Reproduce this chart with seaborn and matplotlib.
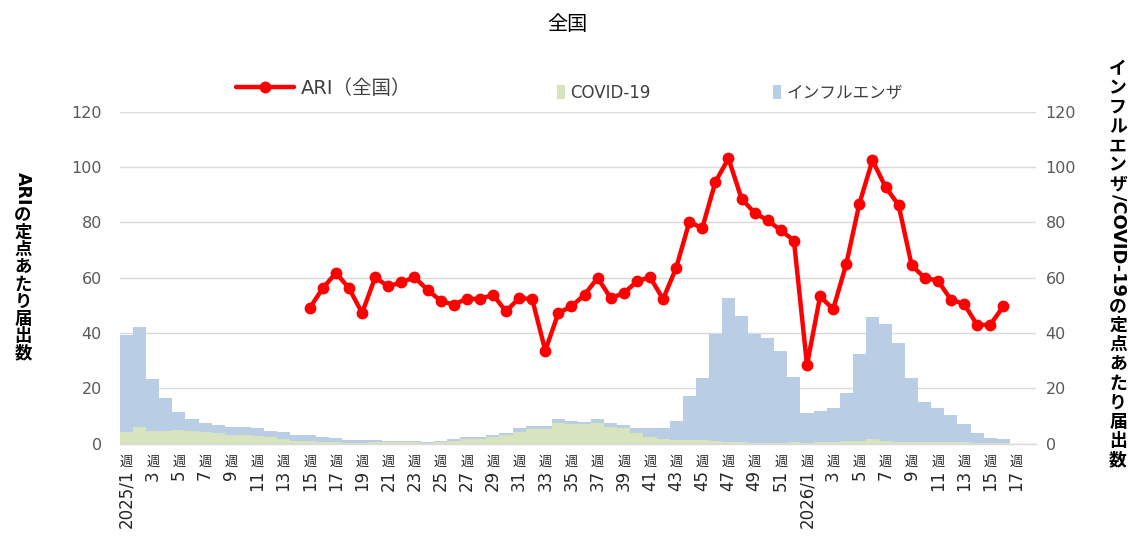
import numpy as np
import pandas as pd
import matplotlib
matplotlib.use("Agg")
import matplotlib.pyplot as plt
import seaborn as sns
from matplotlib.lines import Line2D
from matplotlib.patches import Patch
from matplotlib.font_manager import FontProperties
from matplotlib.textpath import TextToPath

sns.set_style("white")
plt.rcParams["font.family"] = ["DejaVu Sans", "Noto Sans CJK JP"]

# ---------------- data ----------------
covid_2025 = [4.1, 6.1, 4.4, 4.7, 4.8, 4.7, 4.1, 3.8, 3.2, 3.1,
              2.8, 2.2, 1.6, 1.0, 0.8, 0.7, 0.4, 0.2, 0.2, 0.4,
              0.4, 0.4, 0.5, 0.3, 0.5, 1.0, 1.5, 1.6, 2.2, 3.1,
              4.3, 5.3, 5.1, 7.5, 7.2, 7.1, 7.5, 6.1, 5.5, 3.9,
              2.5, 1.6, 1.4, 1.2, 1.1, 0.8, 0.7, 0.5, 0.3, 0.3,
              0.3, 0.6]
flu_2025 = [35.2, 35.9, 18.9, 11.9, 6.7, 4.3, 3.2, 2.9, 2.7, 2.9,
            2.7, 2.4, 2.4, 2.1, 2.2, 1.8, 1.5, 1.1, 1.1, 0.8,
            0.6, 0.6, 0.5, 0.4, 0.5, 0.6, 0.7, 0.9, 1.0, 0.8,
            1.2, 1.0, 1.3, 1.3, 1.1, 0.8, 1.3, 1.4, 1.2, 1.8,
            3.1, 4.0, 6.8, 15.8, 22.5, 38.9, 51.9, 45.7, 39.4, 37.8,
            33.3, 23.4]
covid_2026 = [0.3, 0.5, 0.5, 1.0, 1.0, 1.5, 1.0, 0.7, 0.7, 0.5,
              0.5, 0.5, 0.5, 0.2, 0.2, 0.2]
flu_2026 = [10.9, 11.3, 12.3, 17.4, 31.4, 44.2, 42.3, 35.6, 22.9, 14.6,
            12.3, 9.8, 6.6, 3.5, 1.7, 1.3]
# ARI: 2025 week 15-52, 2026 week 1-16
ari_2025 = [49.0, 56.2, 61.7, 56.2, 47.2, 60.1, 56.8, 58.3, 60.1, 55.6,
            51.6, 50.2, 52.4, 52.2, 53.8, 47.8, 52.6, 52.2, 33.6, 47.2,
            49.6, 53.8, 59.9, 52.6, 54.4, 58.6, 60.2, 52.2, 63.5, 80.0,
            78.0, 94.6, 103.1, 88.5, 83.4, 80.7, 77.1, 73.4]
ari_2026 = [28.4, 53.2, 48.6, 64.9, 86.7, 102.4, 92.8, 86.2, 64.4, 59.9,
            58.9, 52.0, 50.5, 42.9, 42.9, 49.6]

weeks_2025 = list(range(1, 53))
weeks_2026 = list(range(1, 19))
categories = [f"2025/{w}週" for w in weeks_2025] + [f"2026/{w}週" for w in weeks_2026]

xtick_labels = ["2025/1", "3", "5", "7", "9", "11", "13", "15", "17", "19",
                "21", "23", "25", "27", "29", "31", "33", "35", "37", "39",
                "41", "43", "45", "47", "49", "51",
                "2026/1", "3", "5", "7", "9", "11", "13", "15", "17"]
yticks = [0, 20, 40, 60, 80, 100, 120]

title = "全国"
left_label = "ARIの定点あたり届出数"
right_label = "インフルエンザ/COVID-19の定点あたり届出数"
legend_ari = "ARI（全国）"
legend_covid = "COVID-19"
legend_flu = "インフルエンザ"

BLUE = "#B9CDE5"
GREEN = "#D7E4BD"
RED = "#FF0000"

n_data = len(covid_2025) + len(covid_2026)
df = pd.DataFrame({
    "week": categories[:n_data],
    "covid": covid_2025 + covid_2026,
    "flu": flu_2025 + flu_2026,
})
df["total"] = df["covid"] + df["flu"]

ari_weeks = [f"2025/{w}週" for w in range(15, 53)] + [f"2026/{w}週" for w in range(1, 17)]
ari_df = pd.DataFrame({"week": ari_weeks, "ari": ari_2025 + ari_2026})
ari_df["pos"] = [categories.index(w) for w in ari_df["week"]]

# ---------------- figure ----------------
W, H = 1133, 536
fig = plt.figure(figsize=(W / 100, H / 100), dpi=100)
ax = fig.add_axes([120 / W, 1 - 443.5 / H, (1036 - 120) / W, (443.5 - 111.7) / H])

sns.barplot(data=df, x="week", y="total", order=categories, color=BLUE,
            saturation=1, width=1.0, linewidth=0, ax=ax)
sns.barplot(data=df, x="week", y="covid", order=categories, color=GREEN,
            saturation=1, width=1.0, linewidth=0, ax=ax)
sns.lineplot(data=ari_df, x="pos", y="ari", color=RED, lw=3.2, marker="o",
             markersize=8.5, markeredgewidth=0, ax=ax, zorder=5)

ax.set_xlim(-0.5, len(categories) - 0.5)
ax.set_ylim(0, 120)
ax.set_yticks(yticks)
ax.set_xlabel("")
ax.set_ylabel("")
ax.set_axisbelow(True)
ax.yaxis.grid(True, color="#D9D9D9", lw=1)
ax.xaxis.grid(False)
for s in ["left", "right", "top"]:
    ax.spines[s].set_visible(False)
ax.spines["bottom"].set_color("#D9D9D9")
ax.spines["bottom"].set_linewidth(1)

ax.set_xticks(list(range(0, len(categories), 2)))
ax.set_xticklabels(xtick_labels, rotation=90, va="top", ha="center",
                   fontsize=12, color="#262626")
ax.tick_params(axis="x", length=0, pad=19)
ax.tick_params(axis="y", length=0, pad=13, labelsize=11.5, labelcolor="#595959")

# upright 週 above each rotated tick label
for p in range(0, len(categories), 2):
    ax.text(p, -0.056, "週", transform=ax.get_xaxis_transform(), ha="center",
            va="center", fontsize=9.5, color="#262626")

ax2 = ax.twinx()
ax2.set_ylim(0, 120)
ax2.set_yticks(yticks)
for s in ax2.spines.values():
    s.set_visible(False)
ax2.tick_params(axis="y", length=0, pad=7, labelsize=11.5, labelcolor="#595959")

# title
fig.text(567 / W, 1 - 25 / H, title, ha="center", va="center", fontsize=14.5, color="black")

# legends
leg1 = fig.legend(handles=[Line2D([], [], color=RED, lw=3.2, marker="o", markersize=8.5,
                                  markeredgewidth=0)],
                  labels=[legend_ari], loc="center left",
                  bbox_to_anchor=(236 / W, 1 - 88 / H), frameon=False, fontsize=14,
                  handlelength=3.0, handletextpad=0.35, borderpad=0, borderaxespad=0,
                  labelcolor="#404040")
leg2 = fig.legend(handles=[Patch(facecolor=GREEN, edgecolor="none")], labels=[legend_covid],
                  loc="center left", bbox_to_anchor=(557 / W, 1 - 93 / H), frameon=False,
                  fontsize=12, handlelength=0.45, handleheight=0.95, handletextpad=0.35,
                  borderpad=0, borderaxespad=0, labelcolor="#404040")
leg3 = fig.legend(handles=[Patch(facecolor=BLUE, edgecolor="none")], labels=[legend_flu],
                  loc="center left", bbox_to_anchor=(773 / W, 1 - 93 / H), frameon=False,
                  fontsize=12, handlelength=0.45, handleheight=0.95, handletextpad=0.35,
                  borderpad=0, borderaxespad=0, labelcolor="#404040")

# vertical (tategaki) axis titles
_t2p = TextToPath()


def is_latin(ch):
    return ord(ch) < 0x2000


def vertical_text(xc, ytop, s, fs, cjk_adv=1.0):
    dpi = fig.dpi
    em = fs * dpi / 72
    runs = []
    for ch in s:
        lat = is_latin(ch)
        if runs and runs[-1][0] == lat and lat:
            runs[-1][1] += ch
        else:
            runs.append([lat, ch])
    y = ytop
    prop = FontProperties(family=["DejaVu Sans"], weight="bold", size=fs)
    for lat, t in runs:
        if lat:
            w, _, _ = _t2p.get_text_width_height_descent(t, prop, ismath=False)
            w = w * dpi / 72
            fig.text(xc / W, 1 - (y + w / 2) / H, t, rotation=-90, ha="center",
                     va="center", fontsize=fs, fontweight="bold", color="black")
            y += w + 1
        else:
            fig.text(xc / W, 1 - (y + em * cjk_adv / 2) / H, t, ha="center",
                     va="center", fontsize=fs, fontweight="bold", color="black")
            y += em * cjk_adv


vertical_text(23, 172, left_label, 12.5)
vertical_text(1118, 60, right_label, 12.8, cjk_adv=1.08)

fig.savefig("out.png", dpi=100)
